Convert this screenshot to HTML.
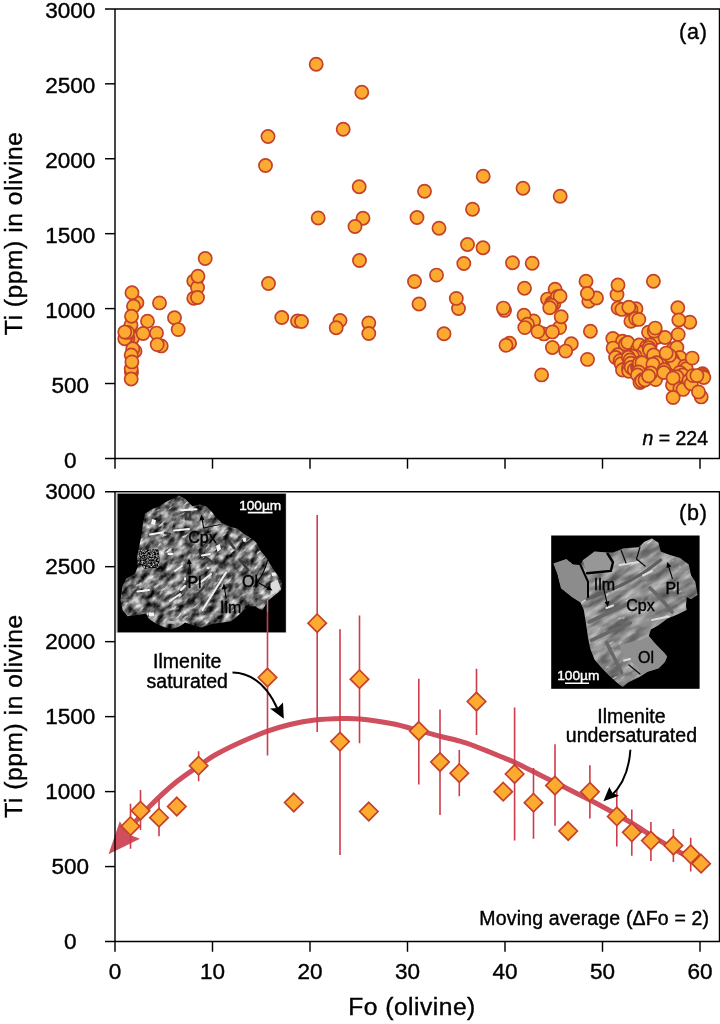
<!DOCTYPE html>
<html lang="en"><head><meta charset="utf-8"><title>Ti (ppm) in olivine vs Fo (olivine)</title>
<style>
html,body{margin:0;padding:0;background:#fff;}
body{width:720px;height:1024px;overflow:hidden;}
svg{display:block;}
text{font-family:"Liberation Sans",Arial,Helvetica,sans-serif;fill:#000;stroke:#000;stroke-width:0.4px;}
.ax{stroke:#000;stroke-width:1.45;fill:none;stroke-linecap:butt;}
.tl{font-size:22.5px;}
.pt{fill:#fcaa30;stroke:#c4412a;stroke-width:1.7;}
.eb{stroke:#cc3d4c;stroke-width:1.6;fill:none;}
</style></head><body>
<svg width="720" height="1024" viewBox="0 0 720 1024">
<rect x="0" y="0" width="720" height="1024" fill="#fff"/>
<path class="ax" d="M105.00 8.90 H719.50 V458.45 H105.00"/>
<path class="ax" d="M115.00 8.90 V468.65"/>
<path class="ax" d="M105 383.52 H115.00"/>
<path class="ax" d="M105 308.60 H115.00"/>
<path class="ax" d="M105 233.67 H115.00"/>
<path class="ax" d="M105 158.75 H115.00"/>
<path class="ax" d="M105 83.82 H115.00"/>
<path class="ax" d="M212.50 458.45 V468.65"/>
<path class="ax" d="M310.00 458.45 V468.65"/>
<path class="ax" d="M407.50 458.45 V468.65"/>
<path class="ax" d="M505.00 458.45 V468.65"/>
<path class="ax" d="M602.50 458.45 V468.65"/>
<path class="ax" d="M700.00 458.45 V468.65"/>
<text class="tl" x="70.3" y="468.00" text-anchor="middle">0</text>
<text class="tl" x="70.3" y="393.08" text-anchor="middle">500</text>
<text class="tl" x="70.3" y="318.16" text-anchor="middle">1000</text>
<text class="tl" x="70.3" y="243.23" text-anchor="middle">1500</text>
<text class="tl" x="70.3" y="168.31" text-anchor="middle">2000</text>
<text class="tl" x="70.3" y="93.38" text-anchor="middle">2500</text>
<text class="tl" x="70.3" y="18.45" text-anchor="middle">3000</text>
<path class="ax" d="M105.00 491.70 H719.50 V941.55 H105.00"/>
<path class="ax" d="M105 866.57 H115.00"/>
<path class="ax" d="M105 791.60 H115.00"/>
<path class="ax" d="M105 716.62 H115.00"/>
<path class="ax" d="M105 641.65 H115.00"/>
<path class="ax" d="M105 566.67 H115.00"/>
<path class="ax" d="M212.50 941.55 V951.75"/>
<path class="ax" d="M310.00 941.55 V951.75"/>
<path class="ax" d="M407.50 941.55 V951.75"/>
<path class="ax" d="M505.00 941.55 V951.75"/>
<path class="ax" d="M602.50 941.55 V951.75"/>
<path class="ax" d="M700.00 941.55 V951.75"/>
<text class="tl" x="70.3" y="948.50" text-anchor="middle">0</text>
<text class="tl" x="70.3" y="873.53" text-anchor="middle">500</text>
<text class="tl" x="70.3" y="798.55" text-anchor="middle">1000</text>
<text class="tl" x="70.3" y="723.58" text-anchor="middle">1500</text>
<text class="tl" x="70.3" y="648.60" text-anchor="middle">2000</text>
<text class="tl" x="70.3" y="573.63" text-anchor="middle">2500</text>
<text class="tl" x="70.3" y="498.55" text-anchor="middle">3000</text>
<text class="tl" x="115.00" y="979.30" text-anchor="middle">0</text>
<text class="tl" x="212.50" y="979.30" text-anchor="middle">10</text>
<text class="tl" x="310.00" y="979.30" text-anchor="middle">20</text>
<text class="tl" x="407.50" y="979.30" text-anchor="middle">30</text>
<text class="tl" x="505.00" y="979.30" text-anchor="middle">40</text>
<text class="tl" x="602.50" y="979.30" text-anchor="middle">50</text>
<text class="tl" x="700.00" y="979.30" text-anchor="middle">60</text>
<text x="412" y="1015" text-anchor="middle" style="font-size:24.6px;letter-spacing:0.5px">Fo (olivine)</text>
<text transform="translate(22,233.4) rotate(-90)" text-anchor="middle" style="font-size:24.6px;letter-spacing:0.55px">Ti (ppm) in olivine</text>
<text transform="translate(22,716) rotate(-90)" text-anchor="middle" style="font-size:24.6px;letter-spacing:0.55px">Ti (ppm) in olivine</text>
<text class="tl" x="707.8" y="38.6" text-anchor="end" style="font-size:21.5px;letter-spacing:0.8px">(a)</text>
<text class="tl" x="707.8" y="520.4" text-anchor="end" style="font-size:21.5px;letter-spacing:0.8px">(b)</text>
<text x="708" y="445" text-anchor="end" style="font-size:19.5px"><tspan font-style="italic">n</tspan> = 224</text>
<text x="709.2" y="925.3" text-anchor="end" style="font-size:19.5px;letter-spacing:0.16px">Moving average (ΔFo = 2)</text>
<g class="pt">
<circle cx="136.9" cy="302.8" r="6.6"/>
<circle cx="132.0" cy="292.8" r="6.6"/>
<circle cx="133.5" cy="306.2" r="6.6"/>
<circle cx="129.5" cy="328.8" r="6.6"/>
<circle cx="131.0" cy="325.0" r="6.6"/>
<circle cx="131.5" cy="316.2" r="6.6"/>
<circle cx="147.5" cy="321.2" r="6.6"/>
<circle cx="130.3" cy="340.3" r="6.6"/>
<circle cx="129.2" cy="335.9" r="6.6"/>
<circle cx="132.5" cy="338.0" r="6.6"/>
<circle cx="127.9" cy="337.9" r="6.6"/>
<circle cx="126.4" cy="336.5" r="6.6"/>
<circle cx="124.8" cy="338.8" r="6.6"/>
<circle cx="143.1" cy="333.5" r="6.6"/>
<circle cx="156.5" cy="333.1" r="6.6"/>
<circle cx="127.5" cy="332.4" r="6.6"/>
<circle cx="124.8" cy="332.1" r="6.6"/>
<circle cx="132.7" cy="352.1" r="6.6"/>
<circle cx="135.0" cy="351.2" r="6.6"/>
<circle cx="161.2" cy="345.9" r="6.6"/>
<circle cx="157.2" cy="344.6" r="6.6"/>
<circle cx="132.8" cy="348.8" r="6.6"/>
<circle cx="131.2" cy="355.0" r="6.6"/>
<circle cx="131.5" cy="372.5" r="6.6"/>
<circle cx="131.2" cy="368.8" r="6.6"/>
<circle cx="131.9" cy="361.9" r="6.6"/>
<circle cx="131.2" cy="379.0" r="6.6"/>
<circle cx="159.5" cy="302.9" r="6.6"/>
<circle cx="174.5" cy="317.8" r="6.6"/>
<circle cx="178.2" cy="329.6" r="6.6"/>
<circle cx="196.1" cy="280.2" r="6.6"/>
<circle cx="193.8" cy="281.0" r="6.6"/>
<circle cx="193.8" cy="298.2" r="6.6"/>
<circle cx="197.5" cy="287.5" r="6.6"/>
<circle cx="197.5" cy="297.5" r="6.6"/>
<circle cx="198.0" cy="276.2" r="6.6"/>
<circle cx="205.2" cy="258.5" r="6.6"/>
<circle cx="268.0" cy="136.5" r="6.6"/>
<circle cx="265.5" cy="165.5" r="6.6"/>
<circle cx="268.5" cy="283.5" r="6.6"/>
<circle cx="281.8" cy="317.5" r="6.6"/>
<circle cx="297.5" cy="321.0" r="6.6"/>
<circle cx="301.5" cy="321.5" r="6.6"/>
<circle cx="316.2" cy="64.2" r="6.6"/>
<circle cx="361.8" cy="92.2" r="6.6"/>
<circle cx="343.2" cy="129.2" r="6.6"/>
<circle cx="359.2" cy="186.8" r="6.6"/>
<circle cx="424.5" cy="191.2" r="6.6"/>
<circle cx="318.2" cy="218.0" r="6.6"/>
<circle cx="363.0" cy="218.2" r="6.6"/>
<circle cx="355.0" cy="226.5" r="6.6"/>
<circle cx="417.0" cy="217.5" r="6.6"/>
<circle cx="439.0" cy="228.2" r="6.6"/>
<circle cx="359.5" cy="260.5" r="6.6"/>
<circle cx="436.5" cy="275.1" r="6.6"/>
<circle cx="414.5" cy="281.5" r="6.6"/>
<circle cx="340.0" cy="320.5" r="6.6"/>
<circle cx="336.2" cy="327.8" r="6.6"/>
<circle cx="368.8" cy="323.0" r="6.6"/>
<circle cx="368.8" cy="333.5" r="6.6"/>
<circle cx="419.0" cy="304.0" r="6.6"/>
<circle cx="458.5" cy="308.5" r="6.6"/>
<circle cx="456.3" cy="298.4" r="6.6"/>
<circle cx="444.0" cy="333.8" r="6.6"/>
<circle cx="483.2" cy="176.2" r="6.6"/>
<circle cx="523.0" cy="188.2" r="6.6"/>
<circle cx="560.2" cy="196.2" r="6.6"/>
<circle cx="472.5" cy="209.2" r="6.6"/>
<circle cx="467.5" cy="244.5" r="6.6"/>
<circle cx="483.0" cy="247.8" r="6.6"/>
<circle cx="463.8" cy="263.5" r="6.6"/>
<circle cx="512.5" cy="262.8" r="6.6"/>
<circle cx="532.2" cy="263.2" r="6.6"/>
<circle cx="524.5" cy="288.2" r="6.6"/>
<circle cx="504.5" cy="310.4" r="6.6"/>
<circle cx="503.4" cy="308.1" r="6.6"/>
<circle cx="555.8" cy="293.0" r="6.6"/>
<circle cx="555.1" cy="289.3" r="6.6"/>
<circle cx="550.6" cy="301.3" r="6.6"/>
<circle cx="547.5" cy="299.1" r="6.6"/>
<circle cx="551.7" cy="302.9" r="6.6"/>
<circle cx="553.8" cy="304.1" r="6.6"/>
<circle cx="557.4" cy="296.8" r="6.6"/>
<circle cx="560.1" cy="296.3" r="6.6"/>
<circle cx="551.3" cy="305.2" r="6.6"/>
<circle cx="549.7" cy="307.7" r="6.6"/>
<circle cx="531.4" cy="323.5" r="6.6"/>
<circle cx="533.6" cy="320.9" r="6.6"/>
<circle cx="524.0" cy="315.3" r="6.6"/>
<circle cx="527.4" cy="324.3" r="6.6"/>
<circle cx="524.8" cy="327.6" r="6.6"/>
<circle cx="543.9" cy="333.9" r="6.6"/>
<circle cx="559.6" cy="327.6" r="6.6"/>
<circle cx="537.9" cy="331.6" r="6.6"/>
<circle cx="552.4" cy="331.9" r="6.6"/>
<circle cx="561.2" cy="316.8" r="6.6"/>
<circle cx="509.6" cy="343.3" r="6.6"/>
<circle cx="506.0" cy="345.3" r="6.6"/>
<circle cx="552.4" cy="347.5" r="6.6"/>
<circle cx="571.3" cy="343.8" r="6.6"/>
<circle cx="565.7" cy="351.1" r="6.6"/>
<circle cx="541.6" cy="374.9" r="6.6"/>
<circle cx="586.0" cy="281.2" r="6.6"/>
<circle cx="590.6" cy="299.2" r="6.6"/>
<circle cx="588.8" cy="301.2" r="6.6"/>
<circle cx="596.5" cy="298.0" r="6.6"/>
<circle cx="587.4" cy="293.5" r="6.6"/>
<circle cx="617.0" cy="294.6" r="6.6"/>
<circle cx="618.0" cy="285.0" r="6.6"/>
<circle cx="653.4" cy="281.2" r="6.6"/>
<circle cx="618.1" cy="308.1" r="6.6"/>
<circle cx="621.9" cy="309.4" r="6.6"/>
<circle cx="636.0" cy="308.8" r="6.6"/>
<circle cx="630.9" cy="309.4" r="6.6"/>
<circle cx="628.8" cy="307.2" r="6.6"/>
<circle cx="634.7" cy="319.6" r="6.6"/>
<circle cx="630.9" cy="321.2" r="6.6"/>
<circle cx="635.6" cy="318.5" r="6.6"/>
<circle cx="638.8" cy="319.4" r="6.6"/>
<circle cx="590.4" cy="331.2" r="6.6"/>
<circle cx="587.5" cy="359.4" r="6.6"/>
<circle cx="652.1" cy="337.9" r="6.6"/>
<circle cx="656.2" cy="337.5" r="6.6"/>
<circle cx="651.6" cy="333.4" r="6.6"/>
<circle cx="648.5" cy="332.2" r="6.6"/>
<circle cx="656.2" cy="334.0" r="6.6"/>
<circle cx="658.1" cy="336.9" r="6.6"/>
<circle cx="665.0" cy="337.5" r="6.6"/>
<circle cx="654.2" cy="331.1" r="6.6"/>
<circle cx="655.2" cy="328.1" r="6.6"/>
<circle cx="614.8" cy="340.9" r="6.6"/>
<circle cx="612.8" cy="338.5" r="6.6"/>
<circle cx="624.9" cy="342.9" r="6.6"/>
<circle cx="622.5" cy="341.2" r="6.6"/>
<circle cx="615.1" cy="349.7" r="6.6"/>
<circle cx="613.1" cy="348.1" r="6.6"/>
<circle cx="623.2" cy="352.5" r="6.6"/>
<circle cx="625.0" cy="350.0" r="6.6"/>
<circle cx="625.4" cy="344.2" r="6.6"/>
<circle cx="627.8" cy="342.5" r="6.6"/>
<circle cx="637.8" cy="348.4" r="6.6"/>
<circle cx="639.4" cy="345.0" r="6.6"/>
<circle cx="646.6" cy="346.8" r="6.6"/>
<circle cx="650.3" cy="345.0" r="6.6"/>
<circle cx="644.3" cy="355.0" r="6.6"/>
<circle cx="643.8" cy="352.0" r="6.6"/>
<circle cx="649.0" cy="347.8" r="6.6"/>
<circle cx="649.7" cy="350.3" r="6.6"/>
<circle cx="654.8" cy="357.7" r="6.6"/>
<circle cx="653.6" cy="355.0" r="6.6"/>
<circle cx="635.1" cy="356.1" r="6.6"/>
<circle cx="632.5" cy="356.2" r="6.6"/>
<circle cx="617.8" cy="354.8" r="6.6"/>
<circle cx="615.6" cy="357.5" r="6.6"/>
<circle cx="625.4" cy="362.6" r="6.6"/>
<circle cx="622.5" cy="360.0" r="6.6"/>
<circle cx="620.1" cy="360.8" r="6.6"/>
<circle cx="621.2" cy="363.8" r="6.6"/>
<circle cx="628.4" cy="357.3" r="6.6"/>
<circle cx="630.0" cy="360.0" r="6.6"/>
<circle cx="624.9" cy="368.9" r="6.6"/>
<circle cx="622.5" cy="370.0" r="6.6"/>
<circle cx="628.5" cy="368.4" r="6.6"/>
<circle cx="628.8" cy="371.2" r="6.6"/>
<circle cx="630.9" cy="363.3" r="6.6"/>
<circle cx="631.2" cy="367.5" r="6.6"/>
<circle cx="634.3" cy="369.8" r="6.6"/>
<circle cx="637.5" cy="367.5" r="6.6"/>
<circle cx="641.7" cy="369.2" r="6.6"/>
<circle cx="638.8" cy="366.2" r="6.6"/>
<circle cx="639.3" cy="363.0" r="6.6"/>
<circle cx="642.0" cy="362.8" r="6.6"/>
<circle cx="665.6" cy="362.0" r="6.6"/>
<circle cx="663.8" cy="365.0" r="6.6"/>
<circle cx="656.5" cy="362.7" r="6.6"/>
<circle cx="652.9" cy="364.2" r="6.6"/>
<circle cx="638.5" cy="371.9" r="6.6"/>
<circle cx="637.5" cy="375.0" r="6.6"/>
<circle cx="642.5" cy="379.8" r="6.6"/>
<circle cx="640.0" cy="382.5" r="6.6"/>
<circle cx="641.8" cy="380.9" r="6.6"/>
<circle cx="645.0" cy="380.0" r="6.6"/>
<circle cx="656.3" cy="376.5" r="6.6"/>
<circle cx="655.6" cy="379.6" r="6.6"/>
<circle cx="650.9" cy="373.0" r="6.6"/>
<circle cx="648.6" cy="376.0" r="6.6"/>
<circle cx="677.8" cy="307.8" r="6.6"/>
<circle cx="689.8" cy="322.2" r="6.6"/>
<circle cx="678.8" cy="320.0" r="6.6"/>
<circle cx="678.2" cy="334.4" r="6.6"/>
<circle cx="673.1" cy="349.0" r="6.6"/>
<circle cx="676.9" cy="347.5" r="6.6"/>
<circle cx="679.0" cy="361.0" r="6.6"/>
<circle cx="680.0" cy="357.5" r="6.6"/>
<circle cx="671.2" cy="357.6" r="6.6"/>
<circle cx="672.5" cy="360.0" r="6.6"/>
<circle cx="672.8" cy="365.1" r="6.6"/>
<circle cx="675.0" cy="363.8" r="6.6"/>
<circle cx="669.5" cy="355.4" r="6.6"/>
<circle cx="666.2" cy="353.1" r="6.6"/>
<circle cx="684.8" cy="366.2" r="6.6"/>
<circle cx="686.2" cy="368.8" r="6.6"/>
<circle cx="692.2" cy="358.1" r="6.6"/>
<circle cx="664.2" cy="369.7" r="6.6"/>
<circle cx="663.8" cy="372.5" r="6.6"/>
<circle cx="679.8" cy="372.4" r="6.6"/>
<circle cx="682.5" cy="375.0" r="6.6"/>
<circle cx="676.4" cy="385.4" r="6.6"/>
<circle cx="672.5" cy="385.0" r="6.6"/>
<circle cx="676.9" cy="376.7" r="6.6"/>
<circle cx="673.1" cy="378.1" r="6.6"/>
<circle cx="679.9" cy="388.7" r="6.6"/>
<circle cx="683.1" cy="389.4" r="6.6"/>
<circle cx="673.1" cy="397.5" r="6.6"/>
<circle cx="699.6" cy="375.7" r="6.6"/>
<circle cx="702.5" cy="373.8" r="6.6"/>
<circle cx="702.5" cy="375.5" r="6.6"/>
<circle cx="703.8" cy="377.5" r="6.6"/>
<circle cx="689.0" cy="380.5" r="6.6"/>
<circle cx="691.2" cy="383.8" r="6.6"/>
<circle cx="692.9" cy="375.6" r="6.6"/>
<circle cx="696.9" cy="375.6" r="6.6"/>
<circle cx="701.2" cy="396.9" r="6.6"/>
<circle cx="698.5" cy="391.9" r="6.6"/>
</g>
<defs>
<filter id="tex1" x="-5%" y="-5%" width="110%" height="110%" color-interpolation-filters="sRGB"><feTurbulence type="fractalNoise" baseFrequency="0.1 0.16" numOctaves="4" seed="11" result="n"/><feColorMatrix in="n" type="matrix" values="1.5 0 0 0 -0.32  1.5 0 0 0 -0.32  1.5 0 0 0 -0.32  0 0 0 0 1" result="g"/><feTurbulence type="fractalNoise" baseFrequency="0.09 0.3" numOctaves="2" seed="4" result="n2"/><feColorMatrix in="n2" type="matrix" values="0 0 0 0 0.9  0 0 0 0 0.9  0 0 0 0 0.9  8 0 0 0 -5.25" result="w"/><feMerge result="m"><feMergeNode in="g"/><feMergeNode in="w"/></feMerge><feComposite in="m" in2="SourceGraphic" operator="in"/></filter>
<filter id="tex2" x="-5%" y="-5%" width="110%" height="110%" color-interpolation-filters="sRGB"><feTurbulence type="fractalNoise" baseFrequency="0.04 0.12" numOctaves="3" seed="5" result="n"/><feColorMatrix in="n" type="matrix" values="0.75 0 0 0 0.17  0.75 0 0 0 0.17  0.75 0 0 0 0.17  0 0 0 0 1" result="g"/><feTurbulence type="fractalNoise" baseFrequency="0.08 0.3" numOctaves="2" seed="9" result="n2"/><feColorMatrix in="n2" type="matrix" values="0 0 0 0 0.88  0 0 0 0 0.88  0 0 0 0 0.88  8 0 0 0 -5.7" result="w"/><feMerge result="m"><feMergeNode in="g"/><feMergeNode in="w"/></feMerge><feComposite in="m" in2="SourceGraphic" operator="in"/></filter>
<filter id="spk" x="-10%" y="-10%" width="120%" height="120%" color-interpolation-filters="sRGB"><feTurbulence type="fractalNoise" baseFrequency="0.55 0.7" numOctaves="2" seed="2" result="n"/><feColorMatrix in="n" type="matrix" values="1.9 0 0 0 -0.68  1.9 0 0 0 -0.68  1.9 0 0 0 -0.68  0 0 0 0 1" result="g"/><feComposite in="g" in2="SourceGraphic" operator="in"/></filter>
<filter id="bl" x="-20%" y="-20%" width="140%" height="140%"><feGaussianBlur stdDeviation="0.7"/></filter>
<clipPath id="g1"><polygon points="178.8,495.6 172.5,498.8 165.0,502.5 160.0,506.2 152.5,508.8 145.0,513.8 143.0,522.5 141.9,532.5 140.0,542.5 138.0,552.5 137.0,560.0 138.0,566.0 135.0,573.8 126.2,578.8 122.5,586.2 120.6,600.0 122.5,610.0 127.5,616.2 136.2,615.0 146.2,613.8 148.8,618.8 156.2,623.8 165.0,627.5 172.5,628.8 180.0,626.2 185.0,622.5 192.5,625.0 201.2,627.5 212.5,623.8 222.5,622.5 231.2,621.2 238.8,615.0 243.8,610.0 250.0,606.2 255.0,606.2 258.8,608.8 262.5,610.0 267.5,601.2 275.0,595.0 281.2,590.0 281.9,582.5 277.5,575.0 273.8,570.0 270.0,563.8 266.2,557.5 260.0,550.0 256.2,542.5 250.0,537.5 243.8,533.8 237.5,528.8 228.8,526.2 221.2,522.5 216.2,517.5 211.2,511.2 206.2,506.2 200.0,504.4 192.5,506.2 188.8,502.5 185.0,498.8"/></clipPath>
<clipPath id="g2"><polygon points="652.0,538.5 658.5,542.8 660.7,551.5 669.3,554.8 680.2,558.0 688.8,564.5 691.0,575.3 695.3,581.8 697.5,594.8 691.0,599.2 686.7,597.0 686.0,606.0 686.7,610.0 678.0,614.3 667.2,618.7 658.5,625.2 650.9,629.5 648.8,636.0 654.2,642.5 662.8,651.2 667.2,656.6 665.0,662.0 658.5,668.5 647.7,671.8 639.0,677.2 628.2,682.6 622.8,686.9 619.5,684.8 610.8,677.2 602.2,668.5 594.6,659.8 590.3,649.0 588.1,638.2 585.9,623.0 583.8,610.0 580.5,602.4 571.8,597.0 561.0,588.3 557.8,575.3 553.4,563.4 566.4,559.1 572.9,564.5 580.5,565.0 582.7,560.2 594.6,551.5 606.5,552.6 613.0,552.6 623.8,548.3 639.0,547.2 644.4,541.8"/></clipPath>
</defs>
<rect x="116.3" y="492.6" width="170" height="140.2" fill="#bdbdbd"/>
<rect x="117.6" y="493.8" width="168.2" height="138.5" fill="#000"/>
<g clip-path="url(#g1)">
<g transform="rotate(-42 200 560)"><rect x="80" y="440" width="260" height="260" fill="#808080" filter="url(#tex1)"/></g>
<g filter="url(#bl)" fill="none" stroke-linecap="round">
<path d="M186 512l4 0l0 7l-4 0zM165 533l5 1M204 556l8 6M228 540l6 8M196 596l8 -9M240 560l8 10" stroke="#3a3a3a" stroke-width="2.6"/>
<path d="M138 550l20 -1l2 10l-2 9l-14 1l-5 -8z" fill="#777" stroke="none" filter="url(#spk)"/>
<path d="M181 510.3L196.5 509.2M174 530.6L189 529M150 534.5L162 532.6M137.5 591.5L149 590M202 555.4L210 554" stroke="#f2f2f2" stroke-width="2"/>
<path d="M202.5 610L226 572.5M201 582L211 574M170 601L180 594M181 590L185 586M175 571L182 566" stroke="#ededed" stroke-width="2.1"/>
<path d="M152 519l4 1l-1 5l-4 -1zM216 546l3.5 -2l1.5 5l-3.5 3zM242.5 538l3 -0.5l1 4l-3 0.5zM167.5 552.5l6 0.5l-0.5 2l-5.5 0zM149 612.5l5 0l0 3.5l-5 0zM271.5 572.5l4 0l0.5 3l-4 0.5zM184 577.5l2 0l0 2.5l-2 0zM207 567l2 0l0 2l-2 0z" fill="#f4f4f4" stroke="none"/>
<path d="M270.5 596l10.5 -7l-3.5 -9.5l-7 3.5z" fill="#dcdcdc" stroke="none"/>
<path d="M167.5 620.5l8.5 0.5l-1 3l-8 -0.5z" fill="#b8b8b8" stroke="none"/>
<circle cx="247.6" cy="581.5" r="4.5" fill="#9a9a9a" stroke="none"/>
</g></g>
<rect x="551.2" y="535.5" width="148.4" height="153.3" fill="#000"/>
<g clip-path="url(#g2)">
<g transform="rotate(-30 625 610)"><rect x="500" y="490" width="250" height="250" fill="#8a8a8a" filter="url(#tex2)"/></g>
<g filter="url(#bl)" fill="none" stroke-linecap="round">
<path d="M619.5 644.7L639 640.3L648.8 636L667.2 656.6L665 662L658.5 668.5L647.7 671.8L641 675L637 666L628 660L621.7 653z" fill="#8f8f8f" stroke="none"/>
<path d="M553.4 563.4l13 -4.3l6.5 5.4l7.6 0.5l7.5 17l0 15l-7.5 5.4l-8.7 -5.4l-10.8 -8.7l-3.2 -13z" fill="#8c8c8c" stroke="none"/>
<path d="M582.7 560.2l11.9 -8.7l11.9 1.1l6.5 9.7l-2.2 8.7l-23.8 2.2z" fill="#979797" stroke="none"/>
<path d="M587 599Q604 593 619.5 586Q632 580 643.3 573Q653 566 660.7 560" stroke="#5e5e5e" stroke-width="3.2"/>
<path d="M591.3 640.3Q610 631 630.3 623M606.5 642.5L621.7 672.8M650 588Q658 595 665 603.5L672 612M589 622Q608 613 627.5 604" stroke="#686868" stroke-width="3.6"/>
<path d="M606.5 608L613 605.5M619.5 565L639 562M652 620L669 616.5M624 660.5L630 659M643 575.5L652 571" stroke="#dddddd" stroke-width="2"/>
<path d="M580.5 565L588 581.8L588 597" stroke="#000" stroke-width="2"/>
<path d="M587 573.2L610.8 571L613 562.3L607.5 553.5" stroke="#000" stroke-width="2.4"/>
<path d="M640 547L636.5 559L645 566M621 550L626 563M629 665L640 674" stroke="#0a0a0a" stroke-width="1.2"/>
</g></g>
<g style="font-size:13.7px">
<text x="260.2" y="509.8" text-anchor="middle" style="fill:#fff;stroke:#fff">100µm</text>
<text x="578.3" y="680.3" text-anchor="middle" style="fill:#fff;stroke:#fff">100µm</text>
</g>
<path d="M247.8 512.6H272.6M565 683.2H589" stroke="#fff" stroke-width="1.6" fill="none"/>
<g style="font-size:16px">
<text x="202.4" y="542.6" text-anchor="middle">Cpx</text>
<text x="194.5" y="588.2" text-anchor="middle">Pl</text>
<text x="250" y="586.8" text-anchor="middle">Ol</text>
<text x="230.7" y="613.2" text-anchor="middle">Ilm</text>
<text x="604.5" y="589.5" text-anchor="middle">Ilm</text>
<text x="672.5" y="594" text-anchor="middle">Pl</text>
<text x="640.5" y="610.5" text-anchor="middle">Cpx</text>
<text x="646" y="662.5" text-anchor="middle">Ol</text>
</g>
<g stroke="#000" stroke-width="1.1" fill="#000">
<path d="M203.7 528.5L202 518M190.5 573.4L189.3 562M226.1 598.5L224.3 587" fill="none"/>
<path d="M201.5 514.5l2.9 5.2l-5 0.8zM188.9 558.5l2.9 5.2l-5 0.8zM223.8 583.5l2.9 5.2l-5 0.8z" stroke="none"/>
<path d="M204 528Q212 526 220.5 524.5M267.5 560Q264 575 253.5 587M259 583L268 588" fill="none"/>
<path d="M272.5 590.5l-6.2 -0.6l2.6 -4.3z" stroke="none"/>
<path d="M603.8 588.8L607 603M672.5 578.8L668.3 565.5" fill="none"/>
<path d="M607.8 607l-3.2 -5l5 -1zM667.3 562l4 4.6l-4.9 1.5z" stroke="none"/>
</g>
<path d="M116.0 846.0 C118.3 843.0 124.3 834.7 130.0 828.0 C135.7 821.3 142.5 813.5 150.0 806.0 C157.5 798.5 166.9 789.7 175.0 783.0 C183.1 776.3 192.1 770.7 198.8 766.0 C205.4 761.3 208.1 758.9 215.0 755.0 C221.9 751.1 231.2 746.5 240.0 742.5 C248.8 738.5 259.2 734.2 267.5 731.2 C275.8 728.2 282.1 726.4 290.0 724.5 C297.9 722.6 306.2 721.0 315.0 720.0 C323.8 719.0 335.0 718.7 342.5 718.5 C350.0 718.3 351.7 718.1 360.0 719.0 C368.3 719.9 382.7 721.8 392.5 723.8 C402.3 725.7 410.8 728.4 418.8 730.5 C426.7 732.6 433.1 734.5 440.0 736.2 C446.9 738.0 454.2 739.6 460.0 741.2 C465.8 742.9 468.3 743.8 475.0 746.2 C481.7 748.8 493.3 753.5 500.0 756.2 C506.7 759.0 508.8 759.6 515.0 762.5 C521.2 765.4 530.8 770.4 537.5 773.8 C544.2 777.1 548.8 779.4 555.0 782.5 C561.2 785.6 569.2 789.6 575.0 792.5 C580.8 795.4 584.2 797.0 590.0 800.0 C595.8 803.0 603.3 807.1 610.0 810.8 C616.7 814.5 622.0 817.2 630.0 822.0 C638.0 826.8 649.4 834.4 658.0 839.6 C666.6 844.8 674.3 849.3 681.5 853.3 C688.7 857.3 697.8 862.0 701.0 863.7" fill="none" stroke="#cf4f5e" stroke-width="5" stroke-linecap="butt" stroke-linejoin="round"/>
<polygon points="108.5,854.3 119.8,821.2 127.5,834 140,838.8" fill="#cf4f5e"/>
<path class="eb" d="M130.5 803.8V848.8M140.5 790.0V830.0M159.0 798.8V836.2M198.6 751.2V781.2M267.5 612.0V755.5M317.2 515.0V732.0M340.0 629.2V855.0M359.5 615.5V743.2M418.8 678.8V784.5M440.0 709.5V815.0M459.3 750.0V796.2M476.5 668.8V735.0M514.6 707.5V840.5M533.5 768.0V838.8M555.0 744.2V825.8M589.9 765.2V818.5M616.8 790.0V846.4M631.8 809.4V855.7M650.9 822.0V861.1M673.4 828.9V862.1M690.7 837.7V871.5"/>
<path d="M267.5 600V612" stroke="#e7a3ab" stroke-width="1.6" fill="none" opacity="0.75"/>
<g class="pt">
<path d="M130.5 817.0l9.2 9.2l-9.2 9.2l-9.2 -9.2z"/>
<path d="M140.5 801.5l9.2 9.2l-9.2 9.2l-9.2 -9.2z"/>
<path d="M159.0 808.5l9.2 9.2l-9.2 9.2l-9.2 -9.2z"/>
<path d="M176.8 797.3l9.2 9.2l-9.2 9.2l-9.2 -9.2z"/>
<path d="M198.6 756.5l9.2 9.2l-9.2 9.2l-9.2 -9.2z"/>
<path d="M267.5 668.3l9.2 9.2l-9.2 9.2l-9.2 -9.2z"/>
<path d="M293.8 793.3l9.2 9.2l-9.2 9.2l-9.2 -9.2z"/>
<path d="M317.2 614.0l9.2 9.2l-9.2 9.2l-9.2 -9.2z"/>
<path d="M340.0 732.4l9.2 9.2l-9.2 9.2l-9.2 -9.2z"/>
<path d="M359.5 670.0l9.2 9.2l-9.2 9.2l-9.2 -9.2z"/>
<path d="M368.8 802.3l9.2 9.2l-9.2 9.2l-9.2 -9.2z"/>
<path d="M418.8 721.8l9.2 9.2l-9.2 9.2l-9.2 -9.2z"/>
<path d="M440.0 752.8l9.2 9.2l-9.2 9.2l-9.2 -9.2z"/>
<path d="M459.3 764.0l9.2 9.2l-9.2 9.2l-9.2 -9.2z"/>
<path d="M476.5 692.3l9.2 9.2l-9.2 9.2l-9.2 -9.2z"/>
<path d="M503.2 782.5l9.2 9.2l-9.2 9.2l-9.2 -9.2z"/>
<path d="M514.6 764.8l9.2 9.2l-9.2 9.2l-9.2 -9.2z"/>
<path d="M533.5 793.5l9.2 9.2l-9.2 9.2l-9.2 -9.2z"/>
<path d="M555.0 776.3l9.2 9.2l-9.2 9.2l-9.2 -9.2z"/>
<path d="M568.2 821.8l9.2 9.2l-9.2 9.2l-9.2 -9.2z"/>
<path d="M589.9 782.6l9.2 9.2l-9.2 9.2l-9.2 -9.2z"/>
<path d="M616.8 807.2l9.2 9.2l-9.2 9.2l-9.2 -9.2z"/>
<path d="M631.8 823.1l9.2 9.2l-9.2 9.2l-9.2 -9.2z"/>
<path d="M650.9 831.4l9.2 9.2l-9.2 9.2l-9.2 -9.2z"/>
<path d="M673.4 836.3l9.2 9.2l-9.2 9.2l-9.2 -9.2z"/>
<path d="M690.7 845.1l9.2 9.2l-9.2 9.2l-9.2 -9.2z"/>
<path d="M701.1 854.5l9.2 9.2l-9.2 9.2l-9.2 -9.2z"/>
</g>
<g style="font-size:19.5px" text-anchor="middle">
<text x="187.2" y="668.4">Ilmenite</text>
<text x="187.2" y="687.7">saturated</text>
<text x="631.4" y="723">Ilmenite</text>
<text x="631.4" y="742.4">undersaturated</text>
</g>
<path d="M232.5 672.5C253 673 268 687 278 710" fill="none" stroke="#000" stroke-width="2"/>
<polygon points="283.8,718.8 270,708.6 277.5,708 283,702.5" fill="#000"/>
<path d="M630.4 749.8C629 770 622 786 611 796" fill="none" stroke="#000" stroke-width="2"/>
<polygon points="603.4,801.2 609.3,786.9 612.5,793 619,795.7" fill="#000"/>
<path class="ax" d="M115.00 491.70V951.75"/>
</svg></body></html>
